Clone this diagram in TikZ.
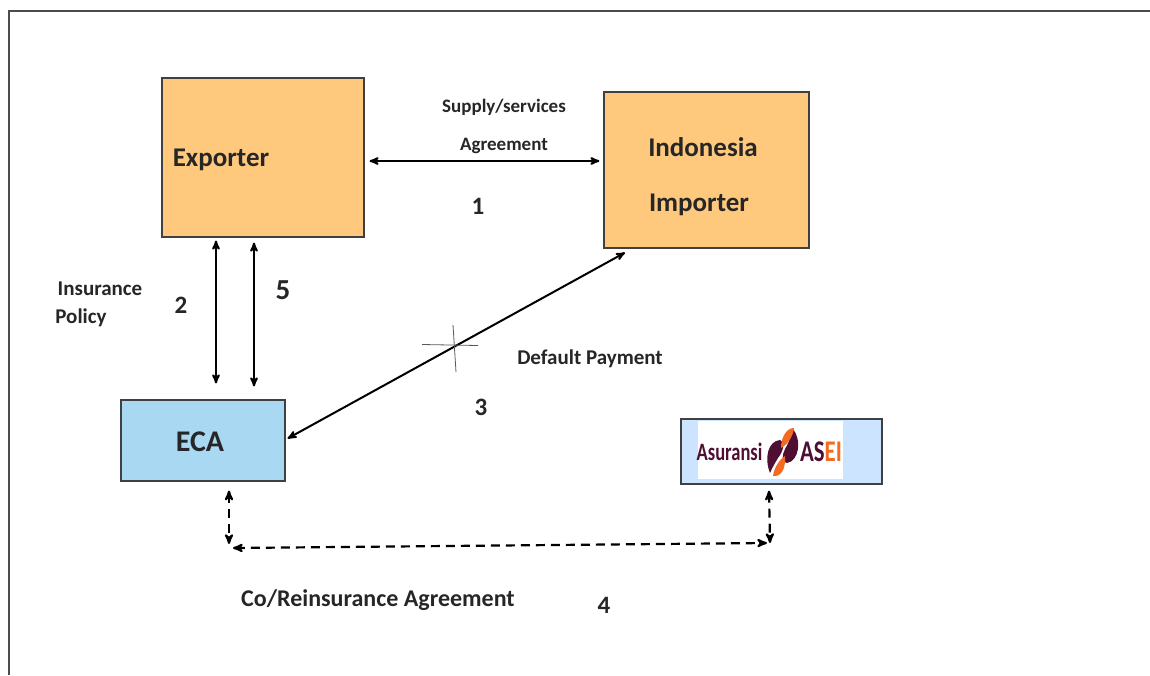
\documentclass[tikz,border=0pt]{standalone}
\usepackage{fontspec}
\setmainfont{Carlito}
\usetikzlibrary{arrows,positioning}
\definecolor{boxorange}{HTML}{FFC97D}
\definecolor{boxblue}{HTML}{A9D8F2}
\definecolor{logoblue}{HTML}{CCE4FF}
\definecolor{logomaroon}{HTML}{4E0F33}
\definecolor{logoorange}{HTML}{F26B21}
\tikzset{
    %Define standard arrow tip
    >=stealth',
    %Define style for boxes
    party/.style={
           rectangle,
           draw=black!75,
           line width=1.2pt,
           inner sep=0pt},
    % Define arrow styles
    flow/.style={
           <->,
           line width=2pt},
    dashflow/.style={
           <->,
           line width=2.2pt,
           dash pattern=on 9pt off 6pt},
    lbl/.style={
           font=\fontsize{19}{22}\selectfont\bfseries,
           text=black!85,
           inner sep=0pt},
    num/.style={
           font=\fontsize{25}{28}\selectfont\bfseries,
           text=black!85,
           inner sep=0pt},
    boxlbl/.style={
           font=\fontsize{27}{30}\selectfont\bfseries,
           text=black!85,
           inner sep=0pt}
}
\begin{document}
\begin{tikzpicture}[x=1pt,y=-1pt]
  \useasboundingbox (0,0) rectangle (1150,675);
  % frame
  \coordinate (framea) at (9,675);
  \coordinate (frameb) at (9,11);
  \coordinate (framec) at (1150,11);
  \draw[black!70,line width=1.2pt] (framea) -- (frameb) -- (framec);
  % boxes
  \node[party,fill=boxorange,minimum width=202pt,minimum height=159pt] (exporter) at (263,157.5) {};
  \node[party,fill=boxorange,minimum width=205pt,minimum height=156pt] (importer) at (706.5,170) {};
  \node[party,fill=boxblue,minimum width=164pt,minimum height=81pt] (eca) at (203,440.5) {};
  \node[party,fill=logoblue,minimum width=201pt,minimum height=65pt] (asei) at (781.5,451.5) {};
  \node[boxlbl] (exporterlbl) at (221,160) {Exporter};
  \node[boxlbl] (indonesia) at (703,147) {Indonesia};
  \node[boxlbl] (importerlbl) at (699,205) {Importer};
  \node[boxlbl,font=\fontsize{30}{32}\selectfont\bfseries] (ecalbl) at (200,442) {ECA};
  % logo
  \node[fill=white,minimum width=145pt,minimum height=58pt,inner sep=0pt] (logo) at (770.5,450) {};
  \node[inner sep=0pt,text=logomaroon,font=\fontsize{25}{28}\selectfont\bfseries] (asuransi) at (729.5,452)
    {\scalebox{.74}[1]{Asuransi}};
  \node[inner sep=0pt,font=\fontsize{30}{32}\selectfont\bfseries] (aseilbl) at (821,452)
    {\scalebox{.76}[1]{\textcolor{logomaroon}{AS}\textcolor{logoorange}{EI}}};
  \fill[logomaroon] (770,473) .. controls (764,458) and (768,441) .. (780,440)
    .. controls (786,441) and (783,452) .. (778,458) .. controls (775,463) and (772,468) .. (770,473);
  \fill[logomaroon] (793,429) .. controls (802,440) and (799,461) .. (787,463)
    .. controls (781,463) and (782,455) .. (785,449) .. controls (788,444) and (791,437) .. (793,429);
  \fill[logoorange] (794,428) .. controls (786,428) and (781,438) .. (781,448)
    .. controls (787,445) and (793,437) .. (794,428);
  \fill[logoorange] (773,476) .. controls (781,477) and (786,469) .. (785,456)
    .. controls (779,460) and (774,468) .. (773,476);
  % arrows
  \draw[flow] ([shift={(5,3.5)}]exporter.east) -- ([shift={(-4,-9)}]importer.west);
  \draw[flow] ([shift={(-47,3)}]exporter.south) -- ([shift={(13,-16)}]eca.north);
  \draw[flow] ([shift={(-9,5)}]exporter.south) -- ([shift={(51,-13)}]eca.north);
  \draw[flow] ([shift={(2,-2)}]eca.east) -- ([shift={(-81.5,4)}]importer.south);
  % crossing mark
  \coordinate (crossw) at (422,344.5);
  \coordinate (crosse) at (478,345.5);
  \coordinate (crossn) at (453,325);
  \coordinate (crosss) at (456,372);
  \draw[black!65,line width=.8pt] (crossw) -- (crosse);
  \draw[black!65,line width=.8pt] (crossn) -- (crosss);
  % dashed agreement
  \coordinate (corner) at (229,544);
  \coordinate (cornerb) at (233,548);
  \coordinate (cornerc) at (767,543);
  \coordinate (cornerd) at (770,543);
  \draw[dashflow] ([shift={(26,9)}]eca.south) -- (corner);
  \draw[dashflow] (cornerb) -- (cornerc);
  \draw[dashflow] ([shift={(-12.5,6)}]asei.south) -- (cornerd);
  % labels
  \node[lbl] (supply) at (504,107) {Supply/services};
  \node[lbl] (agreement) at (504,146) {Agreement};
  \node[num] (one) at (478,206) {1};
  \node[lbl,font=\fontsize{21}{24}\selectfont\bfseries] (insurance) at (100,289) {Insurance};
  \node[lbl,font=\fontsize{21}{24}\selectfont\bfseries] (policy) at (81,318) {Policy};
  \node[num] (two) at (181,305) {2};
  \node[num,font=\fontsize{29}{32}\selectfont\bfseries] (five) at (283,290) {5};
  \node[lbl,font=\fontsize{21}{24}\selectfont\bfseries] (default) at (590,359) {Default Payment};
  \node[num] (three) at (481,407) {3};
  \node[lbl,font=\fontsize{24}{27}\selectfont\bfseries] (coagree) at (378,600) {Co/Reinsurance Agreement};
  \node[num] (four) at (604,605) {4};
\end{tikzpicture}
\end{document}
